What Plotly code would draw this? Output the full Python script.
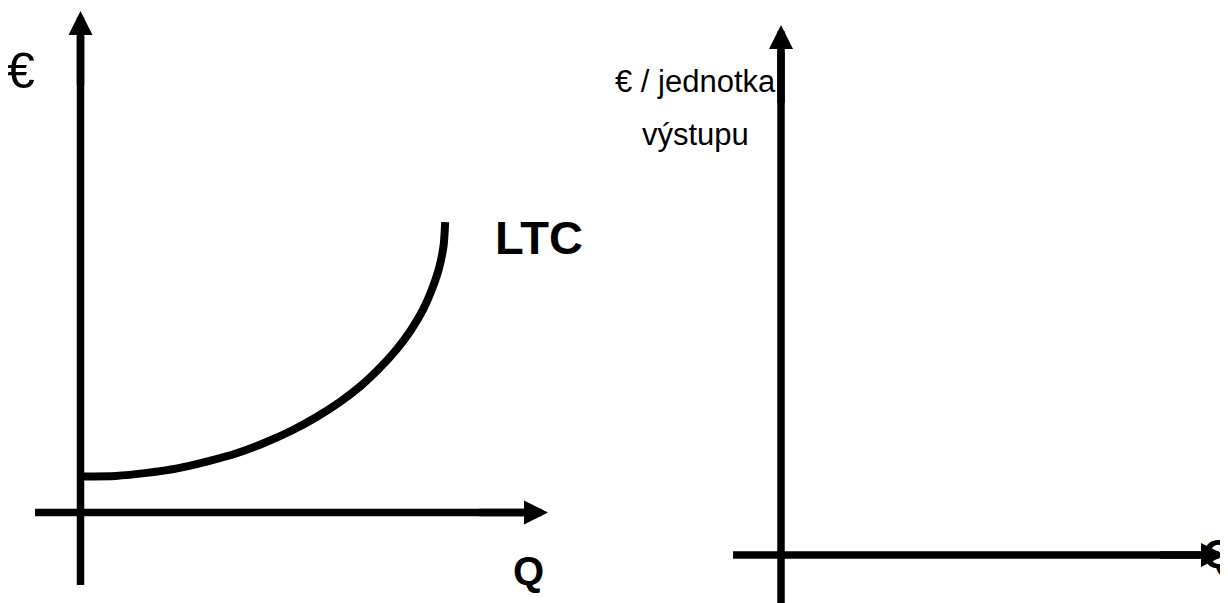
import plotly.graph_objects as go

# ---- data (left panel: long-run total cost curve) ----
ltc_q = [0.0, 0.75, 1.42, 2.07, 2.72, 3.34, 3.94, 4.51, 5.04, 5.54, 5.99, 6.40,
         6.76, 7.07, 7.33, 7.53, 7.68, 7.77, 7.80]
ltc_cost = [0.72, 0.73, 0.79, 0.88, 1.02, 1.18, 1.39, 1.63, 1.90, 2.20, 2.52, 2.88,
            3.25, 3.64, 4.05, 4.48, 4.91, 5.35, 5.79]

left_labels = {"y": "€", "x": "Q", "curve": "LTC"}
right_labels = {"y1": "€ / jednotka", "y2": "výstupu", "x": "Q"}

W, H = 1228, 603
FONT = "Liberation Sans, Arial, sans-serif"
LW = 7.5
PAGE_OFF = 8  # default body margin of the html page

# pixel anchors (in page pixels) of each panel's origin and unit scale
L_ORIG = (80.5 - PAGE_OFF, 512.5 - PAGE_OFF); L_KX, L_KY = 46.75, 50.15
R_ORIG = (781.0 - PAGE_OFF, 555.0 - PAGE_OFF); R_KX, R_KY = 44.4, 53.0
SPLIT = 606

def xr(px0, px1, orig, k):
    return [(px0 - orig) / k, (px1 - orig) / k]

def yr(orig, k):
    return [(orig - H) / k, orig / k]

fig = go.Figure()

line = dict(color="black", width=LW)
# left axes
fig.add_trace(go.Scatter(x=[0, 0], y=[-1.445, 9.5], mode="lines", line=line,
                         xaxis="x", yaxis="y", hoverinfo="skip"))
fig.add_trace(go.Scatter(x=[-0.973, 9.5], y=[0, 0], mode="lines", line=line,
                         xaxis="x", yaxis="y", hoverinfo="skip"))
# LTC curve
fig.add_trace(go.Scatter(x=ltc_q, y=ltc_cost, mode="lines",
                         line=dict(color="black", width=8, shape="spline", smoothing=0.6),
                         xaxis="x", yaxis="y", hoverinfo="skip"))
# right axes
fig.add_trace(go.Scatter(x=[0, 0], y=[-1.2, 9.5], mode="lines", line=line,
                         xaxis="x2", yaxis="y2", hoverinfo="skip"))
fig.add_trace(go.Scatter(x=[-1.08, 9.5], y=[0, 0], mode="lines", line=line,
                         xaxis="x2", yaxis="y2", hoverinfo="skip"))

annotations = []
def arrow(x, y, ax, ay, xref, yref):
    annotations.append(dict(x=x, y=y, ax=ax, ay=ay, xref=xref, yref=yref,
                            axref=xref, ayref=yref, text="", showarrow=True,
                            arrowhead=2, arrowsize=0.64, arrowwidth=LW,
                            arrowcolor="black", font=dict(size=1)))

arrow(0, 10, 0, 8.5, "x", "y")
arrow(10, 0, 8.5, 0, "x", "y")
arrow(0, 10, 0, 8.5, "x2", "y2")
arrow(10, 0, 8.5, 0, "x2", "y2")

def label(x, y, text, size, bold, xref, yref):
    annotations.append(dict(x=x, y=y, xref=xref, yref=yref, text=(f"<b>{text}</b>" if bold else text),
                            showarrow=False, xanchor="center", yanchor="middle",
                            font=dict(family=FONT, size=size, color="black")))

label(-1.283, 8.80, left_labels["y"], 50, False, "x", "y")
label(9.818, 5.474, left_labels["curve"], 47, True, "x", "y")
label(9.583, -1.166, left_labels["x"], 40, True, "x", "y")
label(-1.937, 8.943, right_labels["y1"], 31, False, "x2", "y2")
label(-1.937, 7.925, right_labels["y2"], 31, False, "x2", "y2")
label(9.854, 0.028, right_labels["x"], 40, True, "x2", "y2")

ax_common = dict(visible=False, showgrid=False, zeroline=False, fixedrange=True)
fig.update_layout(
    width=W, height=H, autosize=False,
    margin=dict(l=0, r=0, t=0, b=0),
    paper_bgcolor="white", plot_bgcolor="white",
    showlegend=False,
    xaxis=dict(domain=[0, SPLIT / W], range=xr(0, SPLIT, L_ORIG[0], L_KX), **ax_common),
    yaxis=dict(domain=[0, 1], range=yr(L_ORIG[1], L_KY), anchor="x", **ax_common),
    xaxis2=dict(domain=[SPLIT / W, 1], range=xr(SPLIT, W, R_ORIG[0], R_KX), anchor="y2", **ax_common),
    yaxis2=dict(domain=[0, 1], range=yr(R_ORIG[1], R_KY), anchor="x2", **ax_common),
    annotations=annotations,
)

fig.write_html("out.html")
